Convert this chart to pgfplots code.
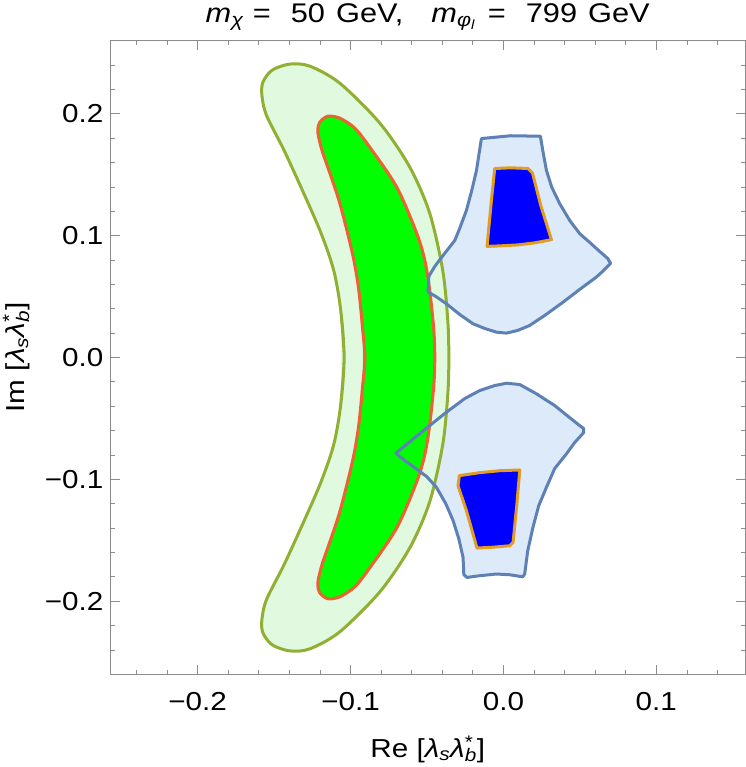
\documentclass[border=0pt]{standalone}
\usepackage{fontspec}
\setmainfont{Liberation Sans}[FakeStretch=1.14]
\usepackage{pgfplots}
\pgfplotsset{compat=1.18}
\definecolor{mblue}{HTML}{5E81B5}
\definecolor{morange}{HTML}{E19C24}
\definecolor{mgreen}{HTML}{8FB032}
\definecolor{mred}{HTML}{EB6235}
\definecolor{lgreen}{HTML}{E1FADF}
\definecolor{lblue}{HTML}{DCEAF9}
\definecolor{framegray}{HTML}{8C8C8C}
\pgfplotstableread{
x y
-0.1064 -0.0386
-0.1042 0
-0.1064 0.0386
-0.1110 0.0715
-0.1195 0.1027
-0.1315 0.1372
-0.1435 0.1701
-0.1550 0.1988
-0.1580 0.2153
-0.1573 0.2260
-0.1513 0.2358
-0.1397 0.2408
-0.1266 0.2391
-0.1070 0.2251
-0.0808 0.1923
-0.0612 0.1561
-0.0482 0.1183
-0.0397 0.0715
-0.0364 0.0304
-0.0357 0
-0.0364 -0.0304
-0.0397 -0.0715
-0.0482 -0.1183
-0.0612 -0.1561
-0.0808 -0.1923
-0.1070 -0.2251
-0.1266 -0.2391
-0.1397 -0.2408
-0.1513 -0.2358
-0.1573 -0.2260
-0.1580 -0.2153
-0.1550 -0.1988
-0.1435 -0.1701
-0.1315 -0.1372
-0.1195 -0.1027
-0.1110 -0.0715
-0.1064 -0.0386
-0.1042 0
-0.1064 0.0386
}\outer
\pgfplotstableread{
x y
-0.0920 -0.0222
-0.0906 0
-0.0920 0.0222
-0.0946 0.0551
-0.0978 0.0797
-0.1024 0.1044
-0.1076 0.1290
-0.1135 0.1512
-0.1187 0.1701
-0.1214 0.1849
-0.1201 0.1931
-0.1148 0.1980
-0.1070 0.1964
-0.0972 0.1882
-0.0874 0.1726
-0.0697 0.1397
-0.0567 0.1019
-0.0514 0.0797
-0.0482 0.0551
-0.0455 0.0222
-0.0449 0
-0.0455 -0.0222
-0.0482 -0.0551
-0.0514 -0.0797
-0.0567 -0.1019
-0.0697 -0.1397
-0.0874 -0.1726
-0.0972 -0.1882
-0.1070 -0.1964
-0.1148 -0.1980
-0.1201 -0.1931
-0.1214 -0.1849
-0.1187 -0.1701
-0.1135 -0.1512
-0.1076 -0.1290
-0.1024 -0.1044
-0.0978 -0.0797
-0.0946 -0.0551
-0.0920 -0.0222
-0.0906 0
-0.0920 0.0222
}\inner
\pgfplotstableread{
x y
-0.0144 0.1797
0.0048 0.1820
0.0242 0.1816
0.0257 0.1701
0.0281 0.1537
0.0316 0.1397
0.0368 0.1263
0.0433 0.1126
0.0499 0.1016
0.0564 0.0945
0.0629 0.0871
0.0682 0.0813
0.0701 0.0772
0.0656 0.0715
0.0608 0.0660
0.0499 0.0559
0.0390 0.0454
0.0270 0.0345
0.0172 0.0263
0.0093 0.0222
0.0020 0.0200
-0.0046 0.0208
-0.0122 0.0238
-0.0199 0.0277
-0.0286 0.0353
-0.0373 0.0441
-0.0442 0.0501
-0.0493 0.0537
-0.0488 0.0666
-0.0449 0.0748
-0.0384 0.0855
-0.0318 0.0961
-0.0286 0.1060
-0.0242 0.1208
-0.0207 0.1372
-0.0176 0.1537
-0.0161 0.1660
-0.0144 0.1797
}\upblue
\pgfplotstableread{
x y
-0.0704 -0.0786
-0.0547 -0.0624
-0.0373 -0.0449
-0.0253 -0.0337
-0.0155 -0.0271
-0.0057 -0.0230
0.0020 -0.0211
0.0107 -0.0222
0.0216 -0.0298
0.0335 -0.0394
0.0433 -0.0493
0.0499 -0.0559
0.0525 -0.0583
0.0525 -0.0616
0.0466 -0.0698
0.0412 -0.0791
0.0335 -0.0912
0.0281 -0.1066
0.0231 -0.1216
0.0193 -0.1394
0.0159 -0.1586
0.0139 -0.1777
0.0126 -0.1800
0.0041 -0.1783
-0.0046 -0.1777
-0.0155 -0.1791
-0.0238 -0.1805
-0.0259 -0.1783
-0.0264 -0.1641
-0.0292 -0.1487
-0.0329 -0.1339
-0.0377 -0.1200
-0.0438 -0.1066
-0.0501 -0.0978
-0.0569 -0.0915
-0.0645 -0.0846
-0.0704 -0.0786
}\lowblue
\pgfplotstableread{
x y
-0.0057 0.1551
0.0048 0.1557
0.0161 0.1551
0.0190 0.1514
0.0244 0.1249
0.0314 0.0967
0.0205 0.0941
0.0093 0.0924
-0.0024 0.0916
-0.0107 0.0912
-0.0083 0.1233
-0.0057 0.1551
}\updark
\pgfplotstableread{
x y
-0.0290 -0.0970
-0.0155 -0.0945
-0.0024 -0.0929
0.0107 -0.0923
0.0087 -0.1216
0.0063 -0.1518
0.0041 -0.1545
-0.0070 -0.1557
-0.0173 -0.1564
-0.0242 -0.1257
-0.0297 -0.1052
-0.0290 -0.0986
-0.0290 -0.0970
}\lowdark
\begin{document}
\begin{tikzpicture}[font=\fontsize{26bp}{31bp}\selectfont]
\begin{axis}[name=ax,
 scale only axis, width=634.5bp, height=633.6bp,
 xmin=-0.257, xmax=0.158, ymin=-0.26, ymax=0.26,
 axis line style={framegray, line width=0.8bp},
 tick style={framegray, line width=0.8bp},
 tick align=inside, major tick length=9bp, minor tick length=4.5bp,
 xtick={-0.2,-0.1,0,0.1}, xticklabels={−0.2,−0.1,0.0,0.1},
 ytick={-0.2,-0.1,0,0.1,0.2}, yticklabels={−0.2,−0.1,0.0,0.1,0.2},
 minor xtick={-0.24,-0.22,-0.18,-0.16,-0.14,-0.12,-0.08,-0.06,-0.04,-0.02,0.02,0.04,0.06,0.08,0.12,0.14},
 minor ytick={-0.24,-0.22,-0.18,-0.16,-0.14,-0.12,-0.08,-0.06,-0.04,-0.02,0.02,0.04,0.06,0.08,0.12,0.14,0.16,0.18,0.22,0.24},
 xticklabel style={anchor=base, inner sep=0pt, yshift=-35.7bp},
 yticklabel style={anchor=east, inner sep=0pt, xshift=-7bp},
 title={\fontsize{27bp}{32bp}\selectfont\textit{m}\textsubscript{\textit{χ}}\hspace{9bp}=\hspace{20bp}50\hspace{11bp}GeV,\hspace{28bp}\textit{m}\textsubscript{\textit{φ}\textsubscript{\textit{l}}}\hspace{12bp}=\hspace{20bp}799\hspace{11bp}GeV},
 title style={at={(axis description cs:0.5,1)}, anchor=base, inner sep=0pt, yshift=12.4bp},
 xlabel={Re [\textit{λ}\textsubscript{\textit{s}}\textit{λ}\rlap{\textsuperscript{*}}\textsubscript{\textit{b}}]},
 xlabel style={at={(axis description cs:0.5,0)}, anchor=base, inner sep=0pt, yshift=-82.7bp},
 ylabel={Im [\textit{λ}\textsubscript{\textit{s}}\textit{λ}\rlap{\textsuperscript{*}}\textsubscript{\textit{b}}]},
 every axis y label/.style={at={(axis description cs:-0.1356,0.5)}, rotate=90, anchor=base, inner sep=0pt},
]
% light blue fills
\addplot[draw=none, fill=lblue] table {\upblue} -- cycle;
\addplot[draw=none, fill=lblue] table {\lowblue} -- cycle;
% crescent fills
\addplot[draw=none, fill=lgreen, smooth] table {\outer} -- cycle;
\addplot[draw=none, fill=green, smooth] table {\inner} -- cycle;
% crescent outlines
\addplot[mgreen, line width=3bp, smooth] table {\outer};
\addplot[mred, line width=3bp, smooth] table {\inner};
% blue outlines
\addplot[mblue, line width=3bp, line join=round] table {\upblue} -- cycle;
\addplot[mblue, line width=3bp, line join=round] table {\lowblue} -- cycle;
% dark blue regions
\addplot[fill=blue, draw=morange, line width=3bp, line join=round] table {\updark} -- cycle;
\addplot[fill=blue, draw=morange, line width=3bp, line join=round] table {\lowdark} -- cycle;
\end{axis}
\pgfresetboundingbox
\path ([shift={(-110.5bp,-92.7bp)}]ax.south west) rectangle ([shift={(1bp,40.7bp)}]ax.north east);
\end{tikzpicture}
\end{document}
